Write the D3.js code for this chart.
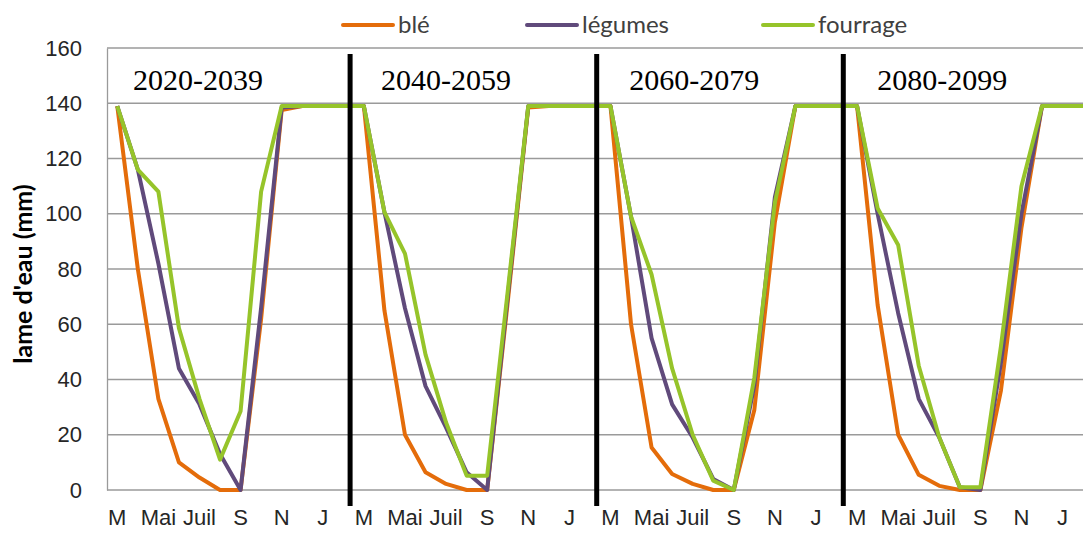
<!DOCTYPE html>
<html lang="fr">
<head>
<meta charset="UTF-8"/>
<title>Lame d'eau par période</title>
<script src="https://d3js.org/d3.v7.min.js"></script>
<style>
    body { margin: 0; background: #fff; }
    svg { display: block; }
</style>
</head>
<body>
<script>
    // Chart size
    var w = 1083;
    var h = 533;
    var margin = { top: 48, right: -10, bottom: 43, left: 107 };

    // Periods and month labels (only every other month is labelled)
    var periods = ["2020-2039", "2040-2059", "2060-2079", "2080-2099"];
    var monthLabels = ["M", "", "Mai", "", "Juil", "", "S", "", "N", "", "J", ""];
    var yTicks = [0, 20, 40, 60, 80, 100, 120, 140, 160];

    // Series values (mm), 12 months x 4 periods
    var ble = [
        139, 80, 33, 10, 4.5, 0, 0, 62, 137.5, 139, 139, 139,
        139, 65, 20, 6.4, 2.2, 0, 0, 68, 138.5, 139, 139, 139,
        139, 60, 15.4, 5.8, 2.2, 0, 0, 29, 97, 139, 139, 139,
        139, 67, 20, 5.5, 1.5, 0, 0, 36, 95, 139, 139, 139
    ];
    var legumes = [
        139, 116, 82, 44, 31, 13, 0, 66, 138.5, 139, 139, 139,
        139, 100.6, 65.8, 37.6, 22.6, 6.4, 0, 70, 139, 139, 139, 139,
        139, 99, 55, 31, 19, 4, 0, 38, 106, 139, 139, 139,
        139, 100, 64, 33, 19, 1, 0, 46, 100, 139, 139, 139
    ];
    var fourrage = [
        139, 116, 108, 58.6, 33, 11, 28.5, 108, 139, 139, 139, 139,
        139, 100.6, 85.6, 49, 24.4, 5.2, 5.2, 72, 139, 139, 139, 139,
        139, 99, 78, 44, 20, 3.4, 0, 40.6, 104, 139, 139, 139,
        139, 102, 88.7, 45, 19, 1, 1, 52, 110, 139, 139, 139
    ];

    var seriesNames = ["blé", "légumes", "fourrage"];
    var seriesValues = [ble, legumes, fourrage];
    var colours = ["#E46C0A", "#604A7B", "#96C42A"];

    var nMonths = monthLabels.length;
    var n = periods.length * nMonths;

    var xScale = d3.scaleBand()
        .domain(d3.range(n))
        .range([margin.left, margin.left + n * 20.55]);

    var yScale = d3.scaleLinear()
        .domain([0, 160])
        .range([h - margin.bottom, margin.top]);

    var svg = d3.select("body")
        .append("svg")
        .attr("width", w)
        .attr("height", h)
        .style("font-family", "Lato, 'Noto Sans', sans-serif");

    // Gridlines
    svg.append("g")
        .selectAll("line")
        .data(yTicks)
        .enter()
        .append("line")
        .attr("x1", margin.left)
        .attr("x2", w)
        .attr("y1", d => yScale(d))
        .attr("y2", d => yScale(d))
        .attr("stroke", "#9a9a9a")
        .attr("stroke-width", 1.3);

    // Y axis
    var yAxis = d3.axisLeft(yScale)
        .tickValues(yTicks)
        .tickSize(0)
        .tickPadding(25);

    var gy = svg.append("g")
        .attr("transform", `translate(${margin.left},0)`)
        .call(yAxis);
    gy.select(".domain").attr("stroke", "#9a9a9a").attr("stroke-width", 1.3);
    gy.selectAll("text")
        .attr("font-size", 22)
        .attr("fill", "#262626");

    // X axis labels
    var xAxis = d3.axisBottom(xScale)
        .tickSize(0)
        .tickPadding(19)
        .tickFormat(i => monthLabels[i % nMonths]);

    var gx = svg.append("g")
        .attr("transform", `translate(0,${h - margin.bottom})`)
        .call(xAxis);
    gx.select(".domain").remove();
    gx.selectAll("text")
        .attr("font-size", 22)
        .attr("fill", "#262626");

    // Y axis title
    svg.append("text")
        .attr("transform", "translate(32,274) rotate(-90)")
        .attr("text-anchor", "middle")
        .attr("font-size", 25)
        .attr("font-weight", "bold")
        .attr("fill", "#000")
        .text("lame d'eau (mm)");

    // Lines
    var line = d3.line()
        .x((d, i) => xScale(i) + xScale.bandwidth() / 2)
        .y(d => yScale(d));

    svg.append("g")
        .selectAll("path")
        .data(seriesValues)
        .enter()
        .append("path")
        .attr("d", d => line(d))
        .attr("fill", "none")
        .attr("stroke", (d, i) => colours[i])
        .attr("stroke-width", 4)
        .attr("stroke-linejoin", "round");

    // Period separators
    svg.append("g")
        .selectAll("line")
        .data(d3.range(1, periods.length))
        .enter()
        .append("line")
        .attr("x1", p => xScale(p * nMonths) - 3.5)
        .attr("x2", p => xScale(p * nMonths) - 3.5)
        .attr("y1", 54)
        .attr("y2", 506)
        .attr("stroke", "#000")
        .attr("stroke-width", 5);

    // Period labels
    svg.append("g")
        .selectAll("text")
        .data(periods)
        .enter()
        .append("text")
        .attr("x", (d, p) => xScale(p * nMonths) + 26 + p * 1.5)
        .attr("y", 90)
        .attr("font-family", "'Liberation Serif', serif")
        .attr("font-size", 30)
        .attr("fill", "#000")
        .text(d => d);

    // Legend
    var legend = svg.append("g");
    var legendStarts = [343, 527, 763];
    seriesNames.forEach(function (name, i) {
        var lx = legendStarts[i];
        legend.append("line")
            .attr("x1", lx)
            .attr("x2", lx + 50)
            .attr("y1", 25)
            .attr("y2", 25)
            .attr("stroke", colours[i])
            .attr("stroke-width", 4)
            .attr("stroke-linecap", "round");
        legend.append("text")
            .attr("x", lx + 55)
            .attr("y", 33)
            .attr("font-size", 24)
            .attr("fill", "#404040")
            .text(name);
    });
</script>
</body>
</html>
